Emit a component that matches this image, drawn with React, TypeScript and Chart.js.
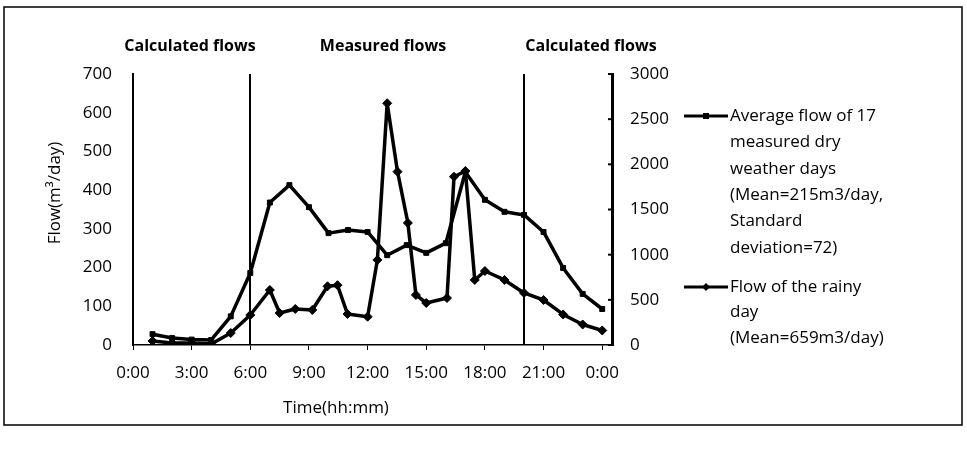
import React, { useEffect, useRef } from "react";
import { Chart, registerables } from "chart.js";

Chart.register(...registerables);

// ---------- data ----------
const dryHours = [1, 2, 3, 4, 5, 6, 7, 8, 9, 10, 11, 12, 13, 14, 15, 16, 17, 18, 19, 20, 21, 22, 23, 24];
const dryFlow = [28, 18, 14, 13, 74, 186, 368, 413, 356, 289, 297, 292, 232, 258, 238, 263, 447, 375, 344, 336, 292, 199, 132, 93];

const rainyHours = [1, 2, 3, 4, 5, 6, 7, 7.5, 8.3, 9.17, 9.95, 10.46, 10.97, 12, 12.5, 13, 13.53, 14.06, 14.47, 15, 16.06, 16.42, 17, 17.48, 18, 19, 20, 21, 22, 23, 24];
const rainyFlow = [44, 22, 22, 11, 133, 332, 609, 354, 399, 388, 650, 662, 343, 313, 941, 2676, 1919, 1351, 554, 465, 520, 1863, 1926, 720, 819, 720, 576, 498, 338, 227, 161];

const xTickHours = [0, 3, 6, 9, 12, 15, 18, 21, 24];
const leftTicks = [0, 100, 200, 300, 400, 500, 600, 700];
const rightTicks = [0, 500, 1000, 1500, 2000, 2500, 3000];
const boundaryHours = [6, 20];

const headerTexts = ["Calculated flows", "Measured flows", "Calculated flows"];
const headerCenters = [190, 383, 591];

const dryLegend = ["Average flow of 17", "measured dry", "weather days", "(Mean=215m3/day,", "Standard", "deviation=72)"];
const rainyLegend = ["Flow of the rainy", "day", "(Mean=659m3/day)"];

const xTitle = "Time(hh:mm)";
const yTitle = "Flow(m³/day)";

const FONT = "'Open Sans', Lato, sans-serif";

function fmtHour(v: number) {
  const h = Math.round(v) % 24;
  return `${h}:00`;
}

export default function App() {
  const ref = useRef<HTMLCanvasElement | null>(null);

  useEffect(() => {
    const canvas = ref.current;
    if (!canvas) return;

    const decor = {
      id: "decor",
      beforeDatasetsDraw(chart: any) {
        const ctx = chart.ctx;
        const area = chart.chartArea;
        const xs = chart.scales.x;
        ctx.save();
        ctx.strokeStyle = "#000";
        ctx.lineWidth = 2;
        boundaryHours.forEach((h) => {
          const px = Math.round(xs.getPixelForValue(h));
          ctx.beginPath();
          ctx.moveTo(px, area.top);
          ctx.lineTo(px, area.bottom);
          ctx.stroke();
        });
        // inner ticks on right axis
        const y1 = chart.scales.y1;
        ctx.lineWidth = 2;
        rightTicks.forEach((v) => {
          const py = y1.getPixelForValue(v);
          ctx.beginPath();
          ctx.moveTo(area.right - 4, py);
          ctx.lineTo(area.right, py);
          ctx.stroke();
        });
        ctx.restore();
      },
      afterDraw(chart: any) {
        const ctx = chart.ctx;
        ctx.save();
        // outer frame
        ctx.strokeStyle = "#000";
        ctx.lineWidth = 1.5;
        ctx.strokeRect(4, 7, 958, 418);

        ctx.fillStyle = "#000";
        ctx.textBaseline = "middle";
        // headers
        ctx.font = `bold 16px ${FONT}`;
        ctx.textAlign = "center";
        headerTexts.forEach((t, i) => ctx.fillText(t, headerCenters[i], 46));

        // axis titles
        ctx.font = `17px ${FONT}`;
        ctx.fillText(xTitle, 336, 408);
        ctx.save();
        ctx.translate(55, 193);
        ctx.rotate(-Math.PI / 2);
        ctx.fillText(yTitle, 0, 0);
        ctx.restore();

        // legend
        ctx.textAlign = "left";
        ctx.font = `17px ${FONT}`;
        const drawItem = (y: number, style: string) => {
          ctx.lineWidth = 3;
          ctx.beginPath();
          ctx.moveTo(684, y);
          ctx.lineTo(728, y);
          ctx.stroke();
          ctx.beginPath();
          if (style === "rect") {
            ctx.rect(703, y - 3, 6, 6);
          } else {
            ctx.moveTo(706, y - 4);
            ctx.lineTo(710, y);
            ctx.lineTo(706, y + 4);
            ctx.lineTo(702, y);
            ctx.closePath();
          }
          ctx.fill();
        };
        drawItem(116, "rect");
        dryLegend.forEach((t, i) => ctx.fillText(t, 730, 116 + i * 26.4));
        drawItem(287, "rectRot");
        rainyLegend.forEach((t, i) => ctx.fillText(t, 730, 287 + i * 25.5));
        ctx.restore();
      },
    };

    const tickFont = { family: FONT, size: 17 };

    const chart = new Chart(canvas, {
      type: "line",
      data: {
        datasets: [
          {
            label: "Average flow of 17 measured dry weather days",
            data: dryHours.map((h, i) => ({ x: h, y: dryFlow[i] })),
            yAxisID: "y",
            borderColor: "#000",
            backgroundColor: "#000",
            borderWidth: 3.5,
            borderJoinStyle: "round",
            pointStyle: "rect",
            pointRadius: 3.5,
            pointBorderWidth: 1,
            pointBackgroundColor: "#000",
            pointBorderColor: "#000",
            tension: 0,
          },
          {
            label: "Flow of the rainy day",
            data: rainyHours.map((h, i) => ({ x: h, y: rainyFlow[i] })),
            yAxisID: "y1",
            borderColor: "#000",
            backgroundColor: "#000",
            borderWidth: 3.5,
            borderJoinStyle: "round",
            pointStyle: "rectRot",
            pointRadius: 4.5,
            pointBorderWidth: 1,
            pointBackgroundColor: "#000",
            pointBorderColor: "#000",
            tension: 0,
          },
        ],
      },
      options: {
        animation: false,
        responsive: false,
        maintainAspectRatio: false,
        layout: { padding: { top: 74, left: 0, right: 0, bottom: 0 } },
        plugins: { legend: { display: false }, tooltip: { enabled: false }, title: { display: false } },
        scales: {
          x: {
            type: "linear",
            min: 0,
            max: 24.5,
            afterBuildTicks: (s: any) => {
              s.ticks = xTickHours.map((v) => ({ value: v }));
            },
            afterFit: (s: any) => {
              s.height = 107;
            },
            ticks: {
              callback: (v: any) => fmtHour(Number(v)),
              color: "#000",
              font: tickFont,
              padding: 13,
              maxRotation: 0,
              autoSkip: false,
            },
            grid: { display: true, drawOnChartArea: false, tickLength: 5, color: "#000", lineWidth: 1 },
            border: { display: true, color: "#000", width: 1.5 },
          },
          y: {
            position: "left",
            min: 0,
            max: 700,
            afterBuildTicks: (s: any) => {
              s.ticks = leftTicks.map((v) => ({ value: v }));
            },
            afterFit: (s: any) => {
              s.width = 133;
            },
            ticks: { color: "#000", font: tickFont, padding: 21, callback: (v: any) => String(v) },
            grid: { display: false, drawTicks: false },
            border: { display: true, color: "#000", width: 2 },
          },
          y1: {
            position: "right",
            min: 0,
            max: 3000,
            afterBuildTicks: (s: any) => {
              s.ticks = rightTicks.map((v) => ({ value: v }));
            },
            afterFit: (s: any) => {
              s.width = 355;
            },
            ticks: { color: "#000", font: tickFont, padding: 18, callback: (v: any) => String(v) },
            grid: { display: false, drawTicks: false },
            border: { display: true, color: "#000", width: 3 },
          },
        },
      },
      plugins: [decor],
    } as any);

    return () => chart.destroy();
  }, []);

  return (
    <div style={{ position: "fixed", left: 0, top: 0, width: 967, height: 452, background: "#fff" }}>
      <canvas ref={ref} width={967} height={452} style={{ width: 967, height: 452, display: "block" }} />
    </div>
  );
}
